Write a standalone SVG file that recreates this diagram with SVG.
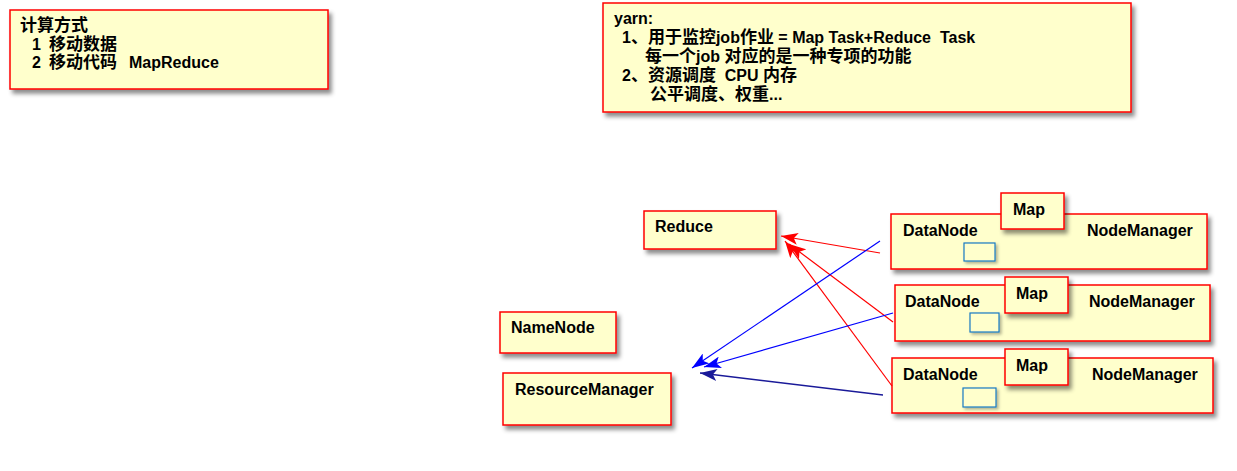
<svg xmlns="http://www.w3.org/2000/svg" width="1237" height="471" viewBox="0 0 1237 471">
<style>
.box{fill:#ffffcc;stroke:#ff0000;stroke-width:1.5;filter:url(#sh)}
.sub{fill:#ffffcc;stroke:#1a7ac4;stroke-width:1.2;filter:url(#sh2)}
text{font-family:"Liberation Sans","Noto Sans CJK SC",sans-serif;font-weight:bold;font-size:16px;fill:#000;white-space:pre}
.c{font-size:17px}
.r{stroke:#ff0000;stroke-width:1.2;fill:none;marker-end:url(#ar)}
.b{stroke:#0000ff;stroke-width:1.2;fill:none;marker-end:url(#ab)}
.n{stroke:#1a1a99;stroke-width:1.4;fill:none;marker-end:url(#an)}
</style>
<defs>
<filter id="sh" x="-10%" y="-10%" width="130%" height="140%">
<feDropShadow dx="3" dy="4" stdDeviation="2" flood-color="#000" flood-opacity="0.45"/>
</filter>
<filter id="sh2" x="-20%" y="-20%" width="150%" height="160%">
<feDropShadow dx="2" dy="2" stdDeviation="1.5" flood-color="#000" flood-opacity="0.3"/>
</filter>
<marker id="ar" markerUnits="userSpaceOnUse" markerWidth="18" markerHeight="12" viewBox="0 0 18 12" refX="17" refY="6" orient="auto">
<path d="M0,0 L17,6 L0,12 L4,6 z" fill="#ff0000"/>
</marker>
<marker id="ab" markerUnits="userSpaceOnUse" markerWidth="18" markerHeight="12" viewBox="0 0 18 12" refX="17" refY="6" orient="auto">
<path d="M0,0 L17,6 L0,12 L4,6 z" fill="#0000ff"/>
</marker>
<marker id="an" markerUnits="userSpaceOnUse" markerWidth="18" markerHeight="12" viewBox="0 0 18 12" refX="17" refY="6" orient="auto">
<path d="M0,0 L17,6 L0,12 L4,6 z" fill="#1a1a99"/>
</marker>
</defs>
<rect width="1237" height="471" fill="#ffffff"/>

<g id="note-compute">
<rect class="box" x="10" y="10" width="318" height="79"/>
<text x="20" y="31" class="c">计算方式</text>
<text x="32" y="50">1<tspan x="49" class="c">移动数据</tspan></text>
<text x="32" y="68">2<tspan x="49" class="c">移动代码</tspan><tspan x="129">MapReduce</tspan></text>
</g>

<g id="note-yarn">
<rect class="box" x="603" y="3" width="528" height="109"/>
<text x="614" y="24">yarn:</text>
<text x="622" y="43">1<tspan class="c">、用于监控</tspan>job<tspan class="c">作业</tspan> = Map Task+Reduce  Task</text>
<text x="645" y="62"><tspan class="c">每一个</tspan>job <tspan class="c">对应的是一种专项的功能</tspan></text>
<text x="622" y="81">2<tspan class="c">、资源调度</tspan>  CPU <tspan class="c">内存</tspan></text>
<text x="650" y="100"><tspan class="c">公平调度、权重</tspan>...</text>
</g>

<g id="reduce">
<rect class="box" x="644" y="211" width="132" height="38"/>
<text x="655" y="232">Reduce</text>
</g>

<g id="namenode">
<rect class="box" x="500" y="312" width="116" height="41"/>
<text x="511" y="333">NameNode</text>
</g>

<g id="resourcemanager">
<rect class="box" x="503" y="373" width="168" height="52"/>
<text x="515" y="395">ResourceManager</text>
</g>

<g id="node1">
<rect class="box" x="891" y="214" width="316" height="55"/>
<rect class="sub" x="964" y="243" width="31" height="18"/>
<text x="903" y="236">DataNode</text>
<text x="1087" y="236">NodeManager</text>
<g id="map1">
<rect class="box" x="1001" y="193" width="63" height="36"/>
<text x="1013" y="215">Map</text>
</g>
</g>

<g id="node2">
<rect class="box" x="895" y="285" width="315" height="56"/>
<rect class="sub" x="970" y="313" width="29" height="19"/>
<text x="905" y="307">DataNode</text>
<text x="1089" y="307">NodeManager</text>
<g id="map2">
<rect class="box" x="1005" y="277" width="63" height="36"/>
<text x="1016" y="299">Map</text>
</g>
</g>

<g id="node3">
<rect class="box" x="892" y="358" width="321" height="55"/>
<rect class="sub" x="963" y="388" width="33" height="19"/>
<text x="903" y="380">DataNode</text>
<text x="1092" y="380">NodeManager</text>
<g id="map3">
<rect class="box" x="1005" y="349" width="63" height="36"/>
<text x="1016" y="371">Map</text>
</g>
</g>

<g id="connectors">
<line class="r" x1="880" y1="253" x2="781" y2="236"/>
<line class="r" x1="893" y1="322" x2="789" y2="244"/>
<line class="r" x1="892" y1="386" x2="785" y2="241"/>
<line class="b" x1="880" y1="241" x2="692" y2="368"/>
<line class="b" x1="893" y1="313" x2="704" y2="367"/>
<line class="n" x1="883" y1="395" x2="700" y2="373"/>
</g>
</svg>
